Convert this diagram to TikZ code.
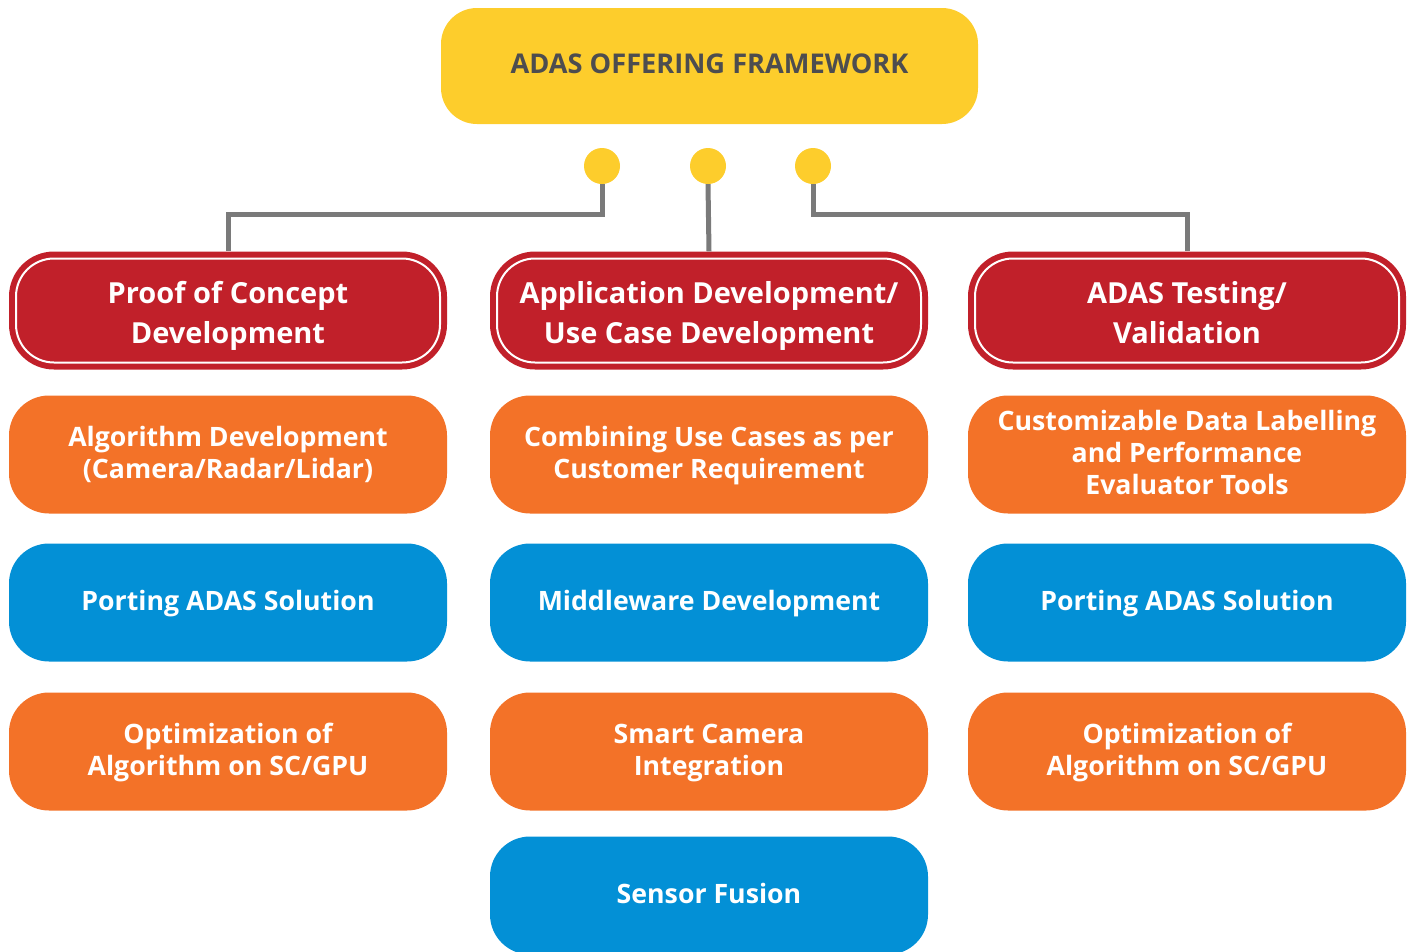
\documentclass[tikz,border=0pt]{standalone}
\usepackage{fontspec}
\setmainfont{Open Sans}
\usetikzlibrary{positioning}

\definecolor{adasyellow}{HTML}{FDCD2C}
\definecolor{adasred}{HTML}{C1202A}
\definecolor{adasorange}{HTML}{F37228}
\definecolor{adasblue}{HTML}{0390D6}
\definecolor{adasgray}{HTML}{7A7A7A}
\definecolor{adastext}{HTML}{4D4D4F}

\tikzstyle{box} = [rounded corners=40pt, text=white, font=\bfseries\fontsize{26.7pt}{32pt}\selectfont,%
                   align=center, minimum width=438pt, minimum height=118pt, anchor=center]
\tikzstyle{head} = [box, fill=adasred, rounded corners=45pt, font=\bfseries\fontsize{29pt}{40pt}\selectfont,%
                    text height=70pt, text depth=4pt,%
                    path picture={\draw[white, line width=2pt, rounded corners=38pt]
                      ([shift={(7pt,7pt)}]path picture bounding box.south west) rectangle
                      ([shift={(-7pt,-7pt)}]path picture bounding box.north east);}]
\tikzstyle{task} = [box, fill=adasorange, text height=55pt, text depth=8pt]
\tikzstyle{tool} = [box, fill=adasblue, text height=22pt, text depth=7pt]
\tikzstyle{dot}  = [circle, fill=adasyellow, inner sep=0pt, minimum size=36pt]
\tikzstyle{link} = [draw=adasgray, line width=5pt]

\begin{document}
\begin{tikzpicture}[x=1pt, y=-1pt, node distance = 148pt]
	\useasboundingbox (0,0) rectangle (1414,951);

	\node (frame) [box, fill=adasyellow, text=adastext, rounded corners=36pt, minimum width=537pt, minimum height=116pt,%
	               font=\bfseries\fontsize{27.2pt}{30pt}\selectfont, text height=20pt, text depth=4.5pt]
	               at (709.5,66) {ADAS OFFERING FRAMEWORK};

	\node (d1) [dot] at (602,166) {};
	\node (d2) [dot] at (708,166) {};
	\node (d3) [dot] at (813,166) {};

	% headings
	\node (poc)  [head] at (228,310.5)  {Proof of Concept\\Development};
	\node (app)  [head] at (709,310.5)  {Application Development/\\Use Case Development};
	\node (test) [head] at (1187,310.5) {ADAS Testing/\\Validation};

	\draw[link] (d1.south) -- ++(0,30) -| (poc.north);
	\draw[link] (d2.south) -- (app.north);
	\draw[link] (d3.south) -- ++(0,30) -| (test.north);

	% first column
	\node (algo1) [task, below of = poc, node distance = 144pt] {Algorithm Development\\(Camera/Radar/Lidar)};
	\node (port1) [tool, below of = algo1] {Porting ADAS Solution};
	\node (opt1)  [task, below of = port1, node distance = 149pt] {Optimization of\\Algorithm on SC/GPU};

	% second column
	\node (comb)   [task, below of = app, node distance = 144pt] {Combining Use Cases as per\\Customer Requirement};
	\node (middle) [tool, below of = comb] {Middleware Development};
	\node (cam)    [task, below of = middle, node distance = 149pt] {Smart Camera\\Integration};
	\node (fusion) [tool, below of = cam, node distance = 144pt] {Sensor Fusion};

	% third column
	\node (label) [task, text height=88pt, below of = test, node distance = 144pt] {Customizable Data Labelling\\and Performance\\Evaluator Tools};
	\node (port2) [tool, below of = label] {Porting ADAS Solution};
	\node (opt2)  [task, below of = port2, node distance = 149pt] {Optimization of\\Algorithm on SC/GPU};
\end{tikzpicture}
\end{document}
